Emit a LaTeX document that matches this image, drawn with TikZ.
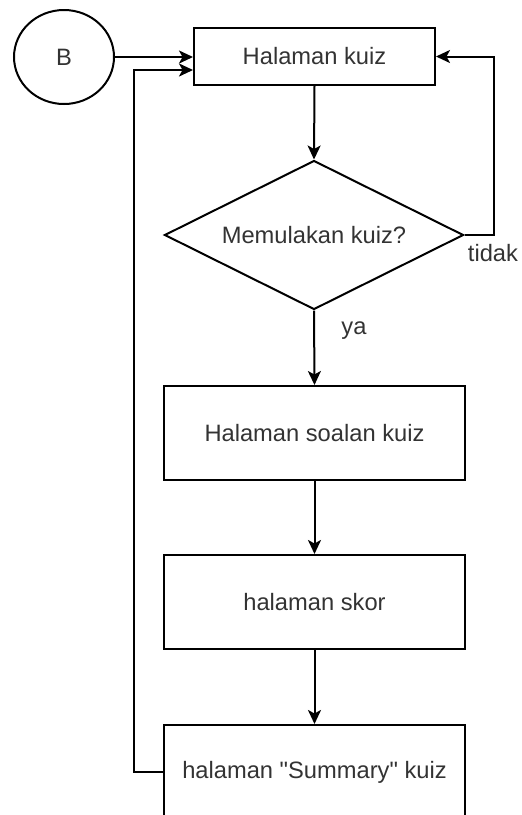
\documentclass[tikz,border=0pt]{standalone}
\usepackage{fontspec}
\setmainfont{Liberation Sans}
\usetikzlibrary{shapes.geometric,arrows.meta}
\definecolor{txt}{HTML}{333333}
\tikzset{
  every node/.style={font=\fontsize{23.7}{28}\selectfont, text=txt},
  procbox/.style={draw=black, line width=2pt, rectangle, inner sep=0pt},
  decision/.style={draw=black, line width=2pt, diamond, aspect=2, inner sep=0pt,
    minimum width=299pt, minimum height=149pt},
  connector/.style={draw=black, line width=2pt, ellipse, inner sep=0pt,
    minimum width=100pt, minimum height=94pt},
  flow/.style={line width=2pt, -{Stealth[length=14pt,width=13pt,inset=3.5pt]}},
  lbl/.style={inner sep=0pt}
}
\begin{document}
\begin{tikzpicture}[x=1pt,y=-1pt]
  \useasboundingbox (0,0) rectangle (522,815);
  \clip (0,0) rectangle (522,815);

  % nodes
  \node[connector] (b) at (64,57) {B};
  \node[procbox, minimum width=241pt, minimum height=57pt] (kuiz) at (314.5,56.5) {Halaman kuiz};
  \node[decision] (mula) at (314,235) {Memulakan kuiz?};
  \node[procbox, minimum width=301pt, minimum height=94pt] (soalan) at (314.5,433) {Halaman soalan kuiz};
  \node[procbox, minimum width=301pt, minimum height=94pt] (skor) at (314.5,602) {halaman skor};
  \node[procbox, minimum width=301pt, minimum height=94pt] (summary) at (314.5,772) {halaman \textquotedbl Summary\textquotedbl\ kuiz};

  % loop corners
  \coordinate (rtop) at (494,56.5);
  \coordinate (rmid) at (494,235);
  \coordinate (lbot) at (134,772);
  \coordinate (ltop) at (134,70);
  \coordinate (kin) at (kuiz.west |- ltop);

  % connectors
  \draw[flow] (b.east) -- (b.east -| kuiz.west);
  \draw[flow] (kuiz.south) -- (mula.north);
  \draw[flow] (mula.east) -- (rmid) -- (rtop) -- (kuiz.east);
  \draw[flow] (mula.south) -- (soalan.north);
  \draw[flow] (soalan.south) -- (skor.north);
  \draw[flow] (skor.south) -- (summary.north);
  \draw[flow] (summary.west) -- (lbot) -- (ltop) -- (kin);

  % branch labels
  \node[lbl] (tidak) at (493,253) {tidak};
  \node[lbl] (ya) at (354,331) {ya};
\end{tikzpicture}
\end{document}
